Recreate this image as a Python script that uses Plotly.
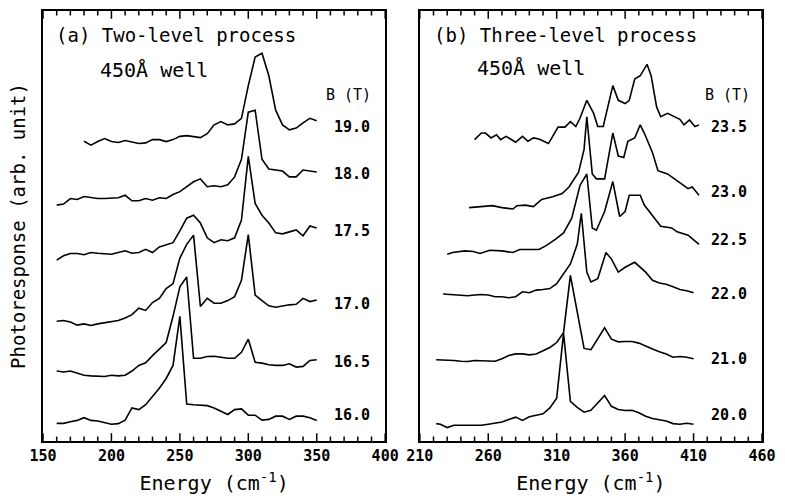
import plotly.graph_objects as go

# ---------------- data: panel (a) two-level process ----------------
grid_a = list(range(160, 355, 5))
grid_a19 = list(range(180, 355, 5))

b_labels_a = ["16.0", "16.5", "17.0", "17.5", "18.0", "19.0"]
label_h_a = [26, 80, 140, 214, 272, 320]

y_16_0 = [18, 18, 19.7, 21, 23.7, 21, 20.3, 18.7, 17, 17.7,
          21.3, 33.7, 32, 37, 45.3, 53.7, 63.7, 77, 127, 37.7,
          37, 36.7, 36, 33.7, 30.3, 27, 32, 32.7, 26.3, 26.3,
          21.3, 22, 25.3, 25.3, 22, 25.3, 25.3, 23.7, 21]
y_16_5 = [71.3, 70.3, 71.3, 69.3, 67, 66.3, 66.3, 65.7, 67, 66.3,
          67, 71.3, 77, 79.7, 87, 93.7, 100.3, 127, 157, 167,
          84.3, 84.3, 86, 86.3, 85.3, 84.3, 84.3, 90.3, 103.7, 80.3,
          79.3, 77.7, 77, 77, 78.7, 75.3, 76, 82, 82.7]
y_17_0 = [122, 122.7, 121.3, 118, 119.3, 117.7, 119.3, 120.3, 121.3, 122.7,
          125.3, 128.7, 135.3, 133, 141, 145.3, 155.3, 160.3, 186.3, 200.3,
          209.7, 137, 145.3, 140.3, 140.3, 143, 147, 163.7, 210.3, 148.7,
          143, 137.7, 136.3, 137.7, 138.7, 139.3, 145.3, 142, 143.7]
y_17_5 = [184.3, 188.7, 191, 191, 189.7, 192, 191.3, 191, 190.3, 192,
          193.7, 191.3, 192, 195.3, 192, 197.7, 200, 202, 214, 227,
          230, 222, 207, 202, 205, 204, 207, 225, 290, 242,
          230, 222, 212, 211, 213, 215, 209, 219, 217]
y_18_0 = [240.3, 241.3, 247, 246, 249, 248, 247, 247, 247, 247.7,
          250.3, 244.7, 244.7, 247, 245.3, 247.7, 247, 251, 254, 258.7,
          264, 267, 259, 260, 259, 261, 269, 287, 335, 337,
          287, 277, 276, 275, 269, 269, 276, 275, 274]
y_19_0 = [305.3, 301.3, 305, 308, 305, 304, 306, 304.5, 303, 303.7,
          307, 307, 305, 307, 310.3, 311, 310.3, 309, 313, 322,
          325.3, 322, 323, 328.7, 362, 391, 395, 372, 337, 322,
          317, 318.7, 324, 328.7, 326.3]

# ---------------- data: panel (b) three-level process ----------------
b_labels_b = ["20.0", "21.0", "22.0", "22.5", "23.0", "23.5"]
label_h_b = [26, 84, 150, 205, 254, 320]

x_20_0 = [222] + list(range(225, 415, 5))
y_20_0 = [17.7, 17, 13.7, 16, 16, 16, 16, 16, 17, 18,
          19.3, 22, 24.3, 21, 24.7, 26.3, 27.7, 33.7, 43.7, 109.7,
          40.3, 34.3, 29.3, 31.3, 38.7, 46.3, 35.3, 32, 31, 31.3,
          28.7, 25.3, 23, 21.3, 20.3, 17.7, 17, 18, 17]
x_21_0 = [222] + list(range(225, 415, 5))
y_21_0 = [82.7, 82.7, 82, 82, 81.3, 81, 82, 82, 81.3, 81.3,
          83.7, 87, 88.7, 88.7, 87.7, 88.7, 92, 95.3, 100.3, 110.3,
          168.7, 132, 94.3, 93, 103.7, 115.3, 103.7, 101, 101.3, 101.3,
          99.7, 96.3, 93.7, 91, 88.7, 85.3, 86, 85.3, 83.7]
x_22_0 = [227, 230, 235, 240, 245, 250, 255, 260, 265, 270,
          275, 280, 285, 290, 295, 300, 305, 310, 315, 320,
          325, 328, 332, 335, 340, 346, 350, 355, 360, 367,
          375, 380, 385, 390, 395, 400, 405, 410]
y_22_0 = [149.7, 149.3, 148.7, 148, 148, 148.7, 149.3, 148.7, 147, 147,
          146, 147, 152, 151, 153.7, 154.3, 155.3, 160.3, 170.3, 180.3,
          200.3, 232, 172, 162, 165.3, 192, 185.3, 172, 177, 182,
          172, 163.7, 161, 159.7, 157, 154.3, 153, 151]
x_22_5 = [230, 234, 243, 249, 254, 261, 270, 278, 283, 297,
          302, 309, 315, 321, 327, 332, 336, 339, 345, 351,
          356, 360, 363, 371, 374, 382, 386, 394, 398, 406, 414]
y_22_5 = [190.3, 192, 193.7, 193, 191, 194.3, 193.7, 192, 195, 195,
          198.7, 205.3, 212, 227, 260.3, 272, 217, 214.7, 233.7, 264.3,
          228.7, 233.7, 250.3, 250.3, 240.3, 225.3, 218.7, 217, 213, 209.7, 200.3]
x_23_0 = [246, 256, 263, 270, 278, 281, 287, 293, 299, 307,
          314, 319, 326, 330, 332, 336, 339, 345, 351, 355,
          359, 362, 367, 371, 374, 380, 384, 391, 401, 406, 409, 414]
y_23_0 = [237.7, 238.7, 239.7, 237.7, 236.3, 239.7, 240.3, 238.7, 246, 248.7,
          252, 258.7, 273.7, 297, 330.3, 272, 267, 267, 313.7, 290.3,
          288.7, 305.3, 308.7, 322, 313.7, 293.7, 275.3, 272, 262, 257, 258.7, 250.3]
x_23_5 = [250, 255, 258, 262, 266, 269, 273, 280, 285, 289,
          293, 297, 304, 311, 316, 320, 324, 327, 332, 337,
          340, 344, 351, 355, 360, 363, 367, 371, 376, 379,
          383, 386, 391, 396, 400, 403, 407, 411, 414]
y_23_5 = [307, 313.7, 313.7, 308.7, 312, 307, 310.3, 304.3, 310.3, 305.3,
          308.7, 307.7, 303, 319.7, 319.7, 325.3, 320.3, 328.7, 347, 333.7,
          320.3, 320.3, 362, 347, 343.7, 347, 368.7, 372, 383.7, 372,
          340.3, 330.3, 333.7, 330.3, 327.7, 322, 327, 320.3, 322]

# tick values of the two energy axes (major every 50, minor every 10)
ticks_a = list(range(150, 401, 10))
ticks_b = list(range(210, 461, 10))
labels_a = list(range(150, 401, 50))
labels_b = list(range(210, 461, 50))
Y_TOP = 438  # top of the intensity axis

FONT = "DejaVu Sans Mono"
LINE = dict(color="black", width=1.6)

fig = go.Figure()

series_a = [(grid_a, y_16_0), (grid_a, y_16_5), (grid_a, y_17_0),
            (grid_a, y_17_5), (grid_a, y_18_0), (grid_a19, y_19_0)]
for xs, ys in series_a:
    fig.add_trace(go.Scatter(x=xs, y=ys, mode="lines", line=LINE,
                             xaxis="x", yaxis="y", showlegend=False))

series_b = [(x_20_0, y_20_0), (x_21_0, y_21_0), (x_22_0, y_22_0),
            (x_22_5, y_22_5), (x_23_0, y_23_0), (x_23_5, y_23_5)]
for xs, ys in series_b:
    fig.add_trace(go.Scatter(x=xs, y=ys, mode="lines", line=LINE,
                             xaxis="x2", yaxis="y2", showlegend=False))

# inward tick marks (bottom and top frame edges), one line trace per panel
for tv, t0, xa, ya in [(ticks_a, 150, "x", "y"), (ticks_b, 210, "x2", "y2")]:
    tx, ty = [], []
    for v in tv:
        ln = 8 if (v - t0) % 50 == 0 else 4.5
        tx += [v, v, None, v, v, None]
        ty += [0, ln, None, Y_TOP, Y_TOP - ln, None]
    fig.add_trace(go.Scatter(x=tx, y=ty, mode="lines", line=dict(color="black", width=1.5),
                             xaxis=xa, yaxis=ya, showlegend=False, hoverinfo="skip",
                             connectgaps=False))

ann = []
for lab, h in zip(b_labels_a, label_h_a):
    ann.append(dict(x=376, y=h, xref="x", yref="y", text="<b>" + lab + "</b>", showarrow=False,
                    font=dict(family=FONT, size=15, color="black")))
for lab, h in zip(b_labels_b, label_h_b):
    ann.append(dict(x=436, y=h, xref="x2", yref="y2", text="<b>" + lab + "</b>", showarrow=False,
                    font=dict(family=FONT, size=15, color="black")))
ann += [
    dict(x=373.5, y=352, xref="x", yref="y", text="B (T)", showarrow=False,
         font=dict(family=FONT, size=15, color="black")),
    dict(x=434.5, y=352, xref="x2", yref="y2", text="B (T)", showarrow=False,
         font=dict(family=FONT, size=15, color="black")),
    dict(x=158, y=414, xref="x", yref="y", text="(a) Two-level process", xanchor="left",
         showarrow=False, font=dict(family=FONT, size=19, color="black")),
    dict(x=219, y=414, xref="x2", yref="y2", text="(b) Three-level process", xanchor="left",
         showarrow=False, font=dict(family=FONT, size=19, color="black")),
    dict(x=190, y=378, xref="x", yref="y", text="450Å well", xanchor="left",
         showarrow=False, font=dict(family=FONT, size=20, color="black")),
    dict(x=250, y=380, xref="x2", yref="y2", text="450Å well", xanchor="left",
         showarrow=False, font=dict(family=FONT, size=20, color="black")),
]

def xax(rng, labels, dom, anchor):
    return dict(domain=dom, anchor=anchor, range=rng, tickmode="array", tickvals=labels,
                ticktext=["<b>%d</b>" % v for v in labels],
                ticks="", showline=True, linewidth=2, linecolor="black", mirror=True,
                showgrid=False, zeroline=False,
                tickfont=dict(family=FONT, size=15, color="black"),
                title=dict(text="Energy (cm<sup>-1</sup>)", standoff=12,
                           font=dict(family=FONT, size=20, color="black")))

def yax(anchor, title):
    d = dict(anchor=anchor, range=[0, Y_TOP], showticklabels=False, ticks="",
             showline=True, linewidth=2, linecolor="black", mirror=True,
             showgrid=False, zeroline=False, domain=[0, 1])
    if title:
        d["title"] = dict(text=title, standoff=10,
                          font=dict(family=FONT, size=19, color="black"))
    return d

fig.update_layout(
    width=785, height=500,
    margin=dict(l=43, r=17, t=9, b=53),
    paper_bgcolor="white", plot_bgcolor="white",
    xaxis=xax([150, 400], labels_a, [0, 0.4759], "y"),
    xaxis2=xax([210, 460], labels_b, [0.5241, 1], "y2"),
    yaxis=yax("x", "Photoresponse (arb. unit)"),
    yaxis2=yax("x2", None),
    annotations=ann,
)

fig.write_html("out.html")
